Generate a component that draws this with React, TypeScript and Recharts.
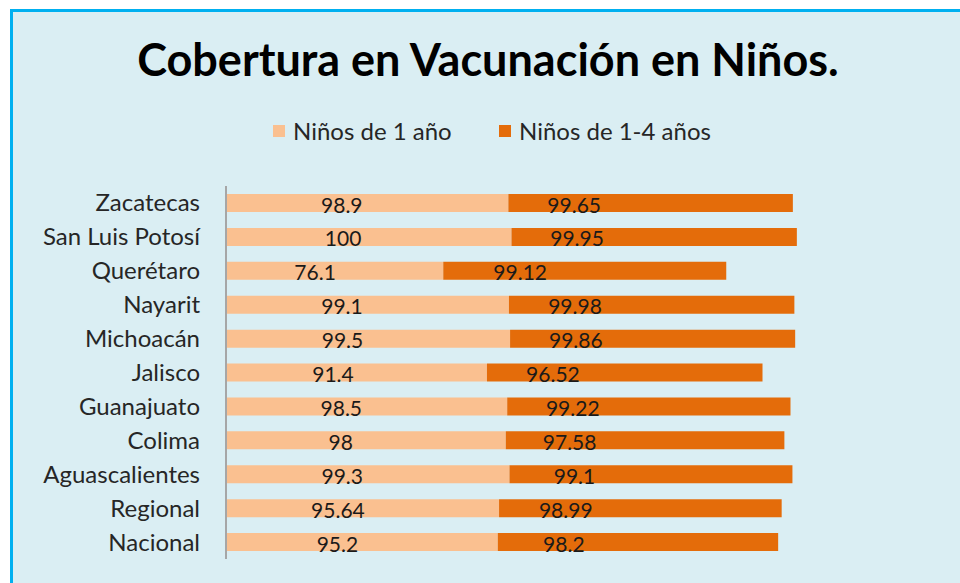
import React from 'react';
import { BarChart, Bar, XAxis, YAxis, LabelList } from 'recharts';

const states = [
  'Zacatecas',
  'San Luis Potosí',
  'Querétaro',
  'Nayarit',
  'Michoacán',
  'Jalisco',
  'Guanajuato',
  'Colima',
  'Aguascalientes',
  'Regional',
  'Nacional',
];
const oneYear = [98.9, 100, 76.1, 99.1, 99.5, 91.4, 98.5, 98, 99.3, 95.64, 95.2];
const oneToFour = [99.65, 99.95, 99.12, 99.98, 99.86, 96.52, 99.22, 97.58, 99.1, 98.99, 98.2];

const series = [
  { key: 'a', name: 'Niños de 1 año', color: '#FAC090', left: 273 },
  { key: 'b', name: 'Niños de 1-4 años', color: '#E46C0A', left: 499 },
];

const data = states.map((name, i) => ({ name, a: oneYear[i], b: oneToFour[i] }));

const AXIS_X = 226;
const FONT = 'Lato, "Open Sans", sans-serif';

// Excel placed the value labels a little left of the segment centres
const valueLabel = (props: any) => {
  const { x, y, width, height, value } = props;
  const cx = AXIS_X + (x + width / 2 - AXIS_X) * 0.82;
  return (
    <text
      x={cx}
      y={y + height / 2 + 1}
      textAnchor="middle"
      dominantBaseline="central"
      fontSize={21}
      fontFamily={FONT}
      fill="#1a1a1a"
    >
      {value}
    </text>
  );
};

export default function App() {
  return (
    <div style={{ position: 'fixed', left: 0, top: 0, width: 960, height: 583, background: '#fff', overflow: 'hidden' }}>
      <div
        style={{
          position: 'absolute',
          left: 10,
          top: 9,
          width: 960,
          height: 590,
          borderLeft: '3px solid #00B0F0',
          borderTop: '3px solid #00B0F0',
          background: '#DAEEF3',
        }}
      />
      <div
        style={{
          position: 'absolute',
          left: 0,
          top: 32,
          width: 976,
          textAlign: 'center',
          fontFamily: FONT,
          fontWeight: 700,
          fontSize: 45,
          color: '#000',
        }}
      >
        Cobertura en Vacunación en Niños.
      </div>
      {series.map((s) => (
        <div
          key={s.key}
          style={{
            position: 'absolute',
            left: s.left,
            top: 115,
            display: 'flex',
            alignItems: 'center',
            fontFamily: FONT,
            fontSize: 24,
            color: '#262626',
            lineHeight: '32px',
            whiteSpace: 'nowrap',
          }}
        >
          <span style={{ width: 12, height: 12, background: s.color, marginRight: 8, display: 'inline-block' }} />
          {s.name}
        </div>
      ))}
      <div style={{ position: 'absolute', left: 0, top: 0 }}>
        <BarChart
          width={960}
          height={583}
          data={data}
          layout="vertical"
          margin={{ top: 186, right: 163, bottom: 24, left: 0 }}
          barSize={18}
        >
          <XAxis type="number" domain={[0, 200]} hide />
          <YAxis
            type="category"
            dataKey="name"
            width={AXIS_X}
            tickLine={false}
            tickSize={0}
            tickMargin={26}
            axisLine={{ stroke: '#A6A6A6', strokeWidth: 2 }}
            tick={{ fill: '#262626', fontSize: 24, fontFamily: FONT }}
            interval={0}
          />
          {series.map((s) => (
            <Bar key={s.key} dataKey={s.key} name={s.name} stackId="s" fill={s.color} isAnimationActive={false}>
              <LabelList dataKey={s.key} content={valueLabel} />
            </Bar>
          ))}
        </BarChart>
      </div>
    </div>
  );
}
